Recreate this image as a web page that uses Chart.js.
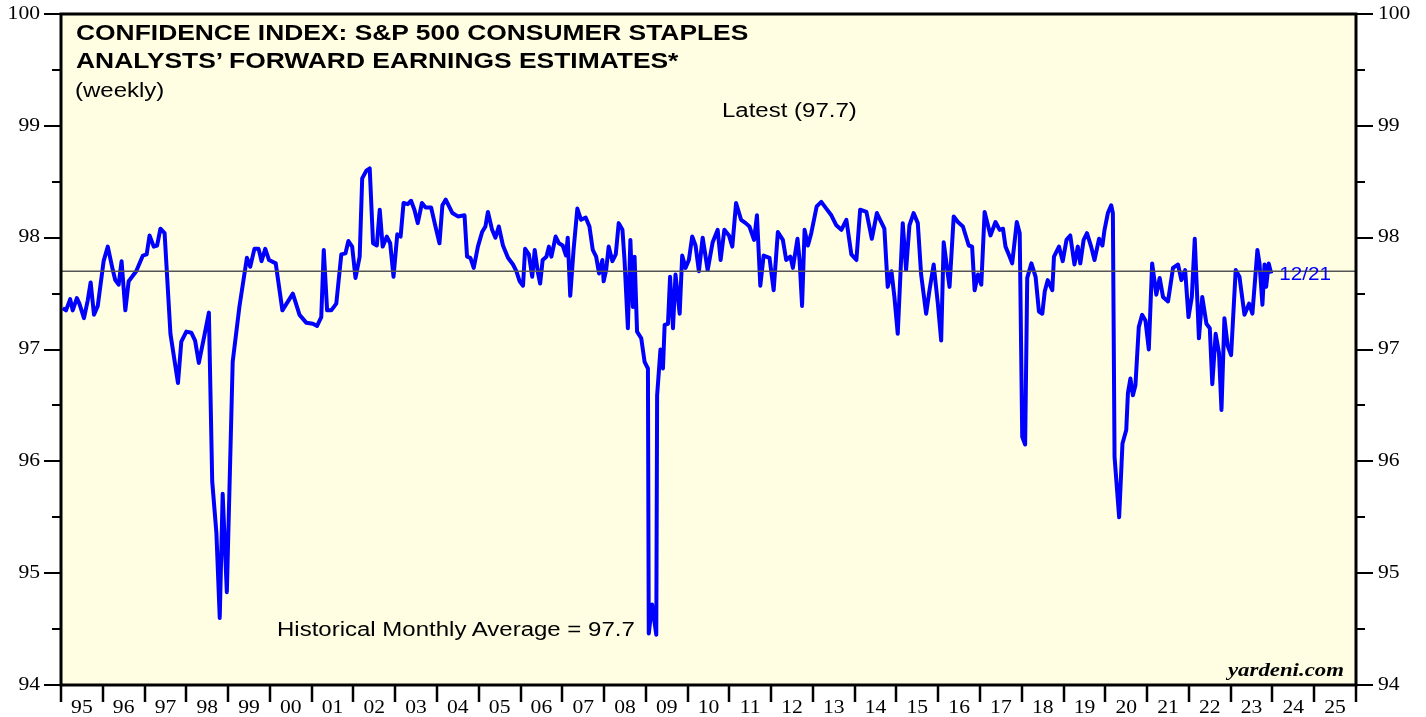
<!DOCTYPE html>
<html>
<head>
<meta charset="utf-8">
<script src="https://cdn.jsdelivr.net/npm/chart.js@4.4.0/dist/chart.umd.min.js"></script>
<style>
  body { margin: 0; background: #fff; }
  #wrap { position: relative; width: 1426px; height: 717px; overflow: hidden; }
  canvas { position: absolute; left: 0; top: 0; }
  .note { position: absolute; white-space: nowrap; line-height: 1; color: #000;
          font-family: "Liberation Sans", Arial, sans-serif; transform-origin: left top; transform: scaleX(1.2); }
  .title { font-size: 22px; font-weight: bold; }
  .plain { font-size: 20px; }
  .brand { font-family: "Liberation Serif", "Times New Roman", serif; font-size: 19px; font-weight: bold; font-style: italic; }
</style>
</head>
<body>
<div id="wrap">
  <canvas id="chart" width="1426" height="717"></canvas>
  <div class="note title" style="left:76px; top:22px;">CONFIDENCE INDEX: S&amp;P 500 CONSUMER STAPLES</div>
  <div class="note title" style="left:76px; top:50px;">ANALYSTS’ FORWARD EARNINGS ESTIMATES*</div>
  <div class="note plain" style="left:75px; top:80px;">(weekly)</div>
  <div class="note plain" style="left:722px; top:100px;">Latest (97.7)</div>
  <div class="note plain" style="left:277px; top:619px;">Historical Monthly Average = 97.7</div>
  <div class="note brand" style="left:1228px; top:660px;">yardeni.com</div>
</div>
<script>
// weekly readings (decimal year) and index values
const weekDates = [
  1995.04, 1995.12, 1995.22, 1995.28, 1995.38, 1995.44, 1995.55, 1995.64, 1995.71, 1995.79, 1995.88,
  1996.02, 1996.12, 1996.24, 1996.30, 1996.38, 1996.45, 1996.54, 1996.62, 1996.80, 1996.96,
  1997.05, 1997.12, 1997.22, 1997.30, 1997.38, 1997.48, 1997.62, 1997.80, 1997.88,
  1998.00, 1998.12, 1998.21, 1998.30, 1998.44, 1998.54, 1998.62, 1998.72, 1998.80, 1998.87, 1998.97,
  1999.11, 1999.27, 1999.45, 1999.53, 1999.63, 1999.73, 1999.80, 1999.89, 1999.98,
  2000.14, 2000.30, 2000.55, 2000.71, 2000.87,
  2001.03, 2001.13, 2001.23, 2001.29, 2001.37, 2001.47, 2001.59, 2001.71, 2001.81, 2001.88, 2001.97,
  2002.05, 2002.15, 2002.21, 2002.31, 2002.39, 2002.47, 2002.56, 2002.63, 2002.70, 2002.80, 2002.88, 2002.96,
  2003.05, 2003.13, 2003.20, 2003.30, 2003.38, 2003.46, 2003.54, 2003.64, 2003.73, 2003.86, 2003.97,
  2004.06, 2004.13, 2004.21, 2004.37, 2004.50, 2004.66, 2004.72, 2004.80, 2004.88, 2004.98,
  2005.08, 2005.16, 2005.22, 2005.32, 2005.40, 2005.48, 2005.58, 2005.70, 2005.82, 2005.90, 2005.98,
  2006.06, 2006.11, 2006.20, 2006.28, 2006.34, 2006.42, 2006.47, 2006.53, 2006.62, 2006.68, 2006.74, 2006.84, 2006.92,
  2007.01, 2007.09, 2007.13, 2007.19, 2007.27, 2007.36, 2007.45, 2007.56, 2007.65, 2007.73, 2007.81, 2007.88, 2007.96, 2007.99,
  2008.05, 2008.11, 2008.20, 2008.28, 2008.35, 2008.44, 2008.49, 2008.57, 2008.63, 2008.69, 2008.73, 2008.79, 2008.89, 2008.97,
  2009.05, 2009.07, 2009.15, 2009.25, 2009.27, 2009.35, 2009.41, 2009.45, 2009.53, 2009.58, 2009.65, 2009.71, 2009.81, 2009.87, 2009.95,
  2010.03, 2010.11, 2010.19, 2010.27, 2010.36, 2010.48, 2010.60, 2010.72, 2010.79, 2010.88, 2010.99,
  2011.07, 2011.16, 2011.28, 2011.39, 2011.48, 2011.59, 2011.66, 2011.74, 2011.82, 2011.96,
  2012.06, 2012.16, 2012.28, 2012.36, 2012.46, 2012.52, 2012.63, 2012.68, 2012.74, 2012.80, 2012.88, 2012.96,
  2013.09, 2013.20, 2013.32, 2013.44, 2013.56, 2013.68, 2013.80, 2013.92,
  2014.04, 2014.13, 2014.28, 2014.41, 2014.53, 2014.71, 2014.79, 2014.88, 2014.95,
  2015.03, 2015.15, 2015.23, 2015.31, 2015.41, 2015.51, 2015.59, 2015.71, 2015.79, 2015.89, 2015.99,
  2016.07, 2016.13, 2016.27, 2016.37, 2016.47, 2016.59, 2016.73, 2016.81, 2016.87, 2016.95,
  2017.03, 2017.11, 2017.25, 2017.37, 2017.47, 2017.55, 2017.61, 2017.71, 2017.77, 2017.88, 2017.95,
  2018.01, 2018.08, 2018.13, 2018.23, 2018.33, 2018.41, 2018.49, 2018.55, 2018.62, 2018.73, 2018.77, 2018.89, 2018.98,
  2019.07, 2019.16, 2019.26, 2019.34, 2019.40, 2019.48, 2019.56, 2019.66, 2019.74, 2019.85, 2019.93, 2019.98,
  2020.06, 2020.14, 2020.18, 2020.22, 2020.33, 2020.41, 2020.50, 2020.54, 2020.60, 2020.66, 2020.72, 2020.80, 2020.88, 2020.96,
  2021.04, 2021.12, 2021.22, 2021.30, 2021.38, 2021.50, 2021.62, 2021.74, 2021.82, 2021.91, 2021.99,
  2022.07, 2022.14, 2022.24, 2022.32, 2022.42, 2022.50, 2022.56, 2022.64, 2022.72, 2022.78, 2022.85, 2022.93,
  2023.01, 2023.12, 2023.21, 2023.33, 2023.44, 2023.52, 2023.64, 2023.69, 2023.76, 2023.81, 2023.85, 2023.91, 2023.97
];
const confidenceIndex = [
  97.37, 97.35, 97.45, 97.35, 97.46, 97.41, 97.28, 97.44, 97.60, 97.31, 97.39,
  97.79, 97.92, 97.71, 97.62, 97.58, 97.79, 97.35, 97.61, 97.70, 97.84,
  97.85, 98.02, 97.92, 97.93, 98.08, 98.04, 97.14, 96.70, 97.07,
  97.16, 97.15, 97.08, 96.88, 97.14, 97.33, 95.82, 95.36, 94.60, 95.71, 94.83,
  96.89, 97.38, 97.82, 97.74, 97.90, 97.90, 97.79, 97.90, 97.80,
  97.77, 97.35, 97.50, 97.31, 97.24,
  97.23, 97.21, 97.29, 97.89, 97.35, 97.35, 97.41, 97.85, 97.86, 97.97, 97.92,
  97.64, 97.83, 98.53, 98.60, 98.62, 97.95, 97.93, 98.25, 97.92, 98.01, 97.95, 97.65,
  98.03, 98.01, 98.31, 98.30, 98.33, 98.25, 98.13, 98.31, 98.27, 98.27, 98.09,
  97.95, 98.29, 98.34, 98.22, 98.19, 98.20, 97.83, 97.82, 97.73, 97.92,
  98.05, 98.10, 98.23, 98.07, 98.00, 98.10, 97.93, 97.82, 97.76, 97.70, 97.61,
  97.57, 97.90, 97.85, 97.65, 97.89, 97.68, 97.59, 97.80, 97.83, 97.92, 97.83, 98.01, 97.95,
  97.93, 97.84, 98.00, 97.48, 97.89, 98.26, 98.16, 98.18, 98.10, 97.89, 97.83, 97.68, 97.80, 97.61,
  97.71, 97.92, 97.79, 97.85, 98.13, 98.07, 97.80, 97.19, 97.98, 97.38, 97.83, 97.16, 97.10, 96.89,
  96.83, 94.46, 94.72, 94.45, 96.59, 97.00, 96.83, 97.22, 97.23, 97.65, 97.19, 97.67, 97.32, 97.84, 97.73,
  97.80, 98.01, 97.93, 97.70, 98.00, 97.71, 97.96, 98.07, 97.80, 98.07, 98.02,
  97.92, 98.31, 98.16, 98.13, 98.10, 97.98, 98.20, 97.57, 97.84, 97.82,
  97.53, 98.05, 97.98, 97.80, 97.83, 97.73, 97.99, 97.80, 97.39, 98.07, 97.93, 98.04,
  98.28, 98.32, 98.26, 98.20, 98.11, 98.07, 98.16, 97.85,
  97.80, 98.25, 98.23, 97.99, 98.22, 98.08, 97.56, 97.70, 97.47,
  97.14, 98.13, 97.71, 98.11, 98.22, 98.13, 97.67, 97.32, 97.53, 97.76, 97.41,
  97.08, 97.96, 97.56, 98.19, 98.14, 98.10, 97.93, 97.92, 97.53, 97.67,
  97.58, 98.23, 98.02, 98.14, 98.07, 98.08, 97.92, 97.83, 97.77, 98.14, 98.04,
  96.22, 96.15, 97.64, 97.77, 97.65, 97.34, 97.32, 97.52, 97.62, 97.53, 97.83, 97.92, 97.79,
  97.98, 98.02, 97.76, 97.92, 97.77, 97.98, 98.04, 97.92, 97.80, 97.99, 97.93, 98.07,
  98.22, 98.29, 98.22, 96.04, 95.50, 96.16, 96.28, 96.61, 96.74, 96.59, 96.68, 97.20, 97.31, 97.26,
  97.00, 97.77, 97.49, 97.64, 97.47, 97.43, 97.73, 97.76, 97.62, 97.71, 97.29,
  97.47, 97.99, 97.10, 97.47, 97.23, 97.19, 96.69, 97.14, 96.97, 96.46, 97.28, 97.03,
  96.95, 97.71, 97.65, 97.31, 97.41, 97.32, 97.89, 97.77, 97.40, 97.76, 97.56, 97.77, 97.68
];
const historicalAverage = 97.7;
const latestLabel = "12/21";

const yearTicks = [];
for (let y = 1995; y <= 2026; y++) yearTicks.push(y);
const yearLabels = ["95","96","97","98","99","00","01","02","03","04","05","06","07","08","09","10",
                    "11","12","13","14","15","16","17","18","19","20","21","22","23","24","25"];
const valueTicks = [94, 95, 96, 97, 98, 99, 100];

function stretchText(ctx, text, x, y, align, sx) {
    ctx.save();
    ctx.translate(x, y);
    ctx.scale(sx, 1);
    ctx.textAlign = align;
    ctx.fillText(text, 0, 0);
    ctx.restore();
}

const framePlugin = {
    id: 'frame',
    beforeDraw(chart) {
        const { ctx, chartArea: a } = chart;
        ctx.save();
        ctx.fillStyle = '#ffffff';
        ctx.fillRect(0, 0, chart.width, chart.height);
        ctx.fillStyle = '#fffee3';
        ctx.fillRect(a.left, a.top, a.right - a.left, a.bottom - a.top);
        ctx.restore();
    },
    afterDatasetsDraw(chart) {
        const { ctx, chartArea: a } = chart;
        const xs = chart.scales.x, ys = chart.scales.y;
        ctx.save();
        ctx.strokeStyle = '#000';
        ctx.fillStyle = '#000';

        // value ticks, both sides
        ctx.lineWidth = 2;
        for (let v = 94; v <= 100; v += 0.5) {
            const py = Math.round(ys.getPixelForValue(v));
            const len = Number.isInteger(v) ? 17 : 9;
            ctx.beginPath();
            ctx.moveTo(a.left - len, py); ctx.lineTo(a.left, py);
            ctx.moveTo(a.right, py); ctx.lineTo(a.right + len, py);
            ctx.stroke();
        }
        ctx.font = '18px "Liberation Serif", "Times New Roman", serif';
        ctx.textBaseline = 'middle';
        valueTicks.forEach(v => {
            const py = ys.getPixelForValue(v);
            stretchText(ctx, String(v), a.left - 21, py, 'right', 1.2);
            stretchText(ctx, String(v), a.right + 22, py, 'left', 1.2);
        });

        // year ticks and labels
        ctx.lineWidth = 2.5;
        yearTicks.forEach(yr => {
            const px = Math.round(xs.getPixelForValue(yr));
            ctx.beginPath();
            ctx.moveTo(px, a.bottom); ctx.lineTo(px, a.bottom + 17);
            ctx.stroke();
        });
        ctx.textBaseline = 'alphabetic';
        yearLabels.forEach((lab, i) => {
            const px = xs.getPixelForValue(yearTicks[i] + 0.5);
            stretchText(ctx, lab, px, 713, 'center', 1.2);
        });

        // plot frame
        ctx.lineWidth = 3;
        ctx.strokeRect(a.left, a.top, a.right - a.left, a.bottom - a.top);

        // latest date tag
        const last = weekDates.length - 1;
        ctx.fillStyle = '#0000ff';
        ctx.font = '18px "Liberation Sans", Arial, sans-serif';
        ctx.textBaseline = 'middle';
        stretchText(ctx, latestLabel, xs.getPixelForValue(weekDates[last]) + 8,
                    ys.getPixelForValue(confidenceIndex[last]) + 2, 'left', 1.15);
        ctx.restore();
    }
};

new Chart(document.getElementById('chart'), {
    type: 'line',
    data: {
        datasets: [
            {
                data: [{ x: 1995, y: historicalAverage }, { x: 2026, y: historicalAverage }],
                borderColor: '#555555',
                borderWidth: 1.5,
                pointRadius: 0
            },
            {
                data: weekDates.map((d, i) => ({ x: d, y: confidenceIndex[i] })),
                borderColor: '#0000ff',
                borderWidth: 4,
                pointRadius: 0,
                tension: 0,
                borderJoinStyle: 'round'
            }
        ]
    },
    options: {
        responsive: false,
        animation: false,
        events: [],
        layout: { padding: { left: 61, right: 70, top: 14, bottom: 32 } },
        plugins: { legend: { display: false }, tooltip: { enabled: false } },
        scales: {
            x: { type: 'linear', min: 1995, max: 2026, display: false },
            y: { min: 94, max: 100, display: false }
        }
    },
    plugins: [framePlugin]
});
</script>
</body>
</html>
